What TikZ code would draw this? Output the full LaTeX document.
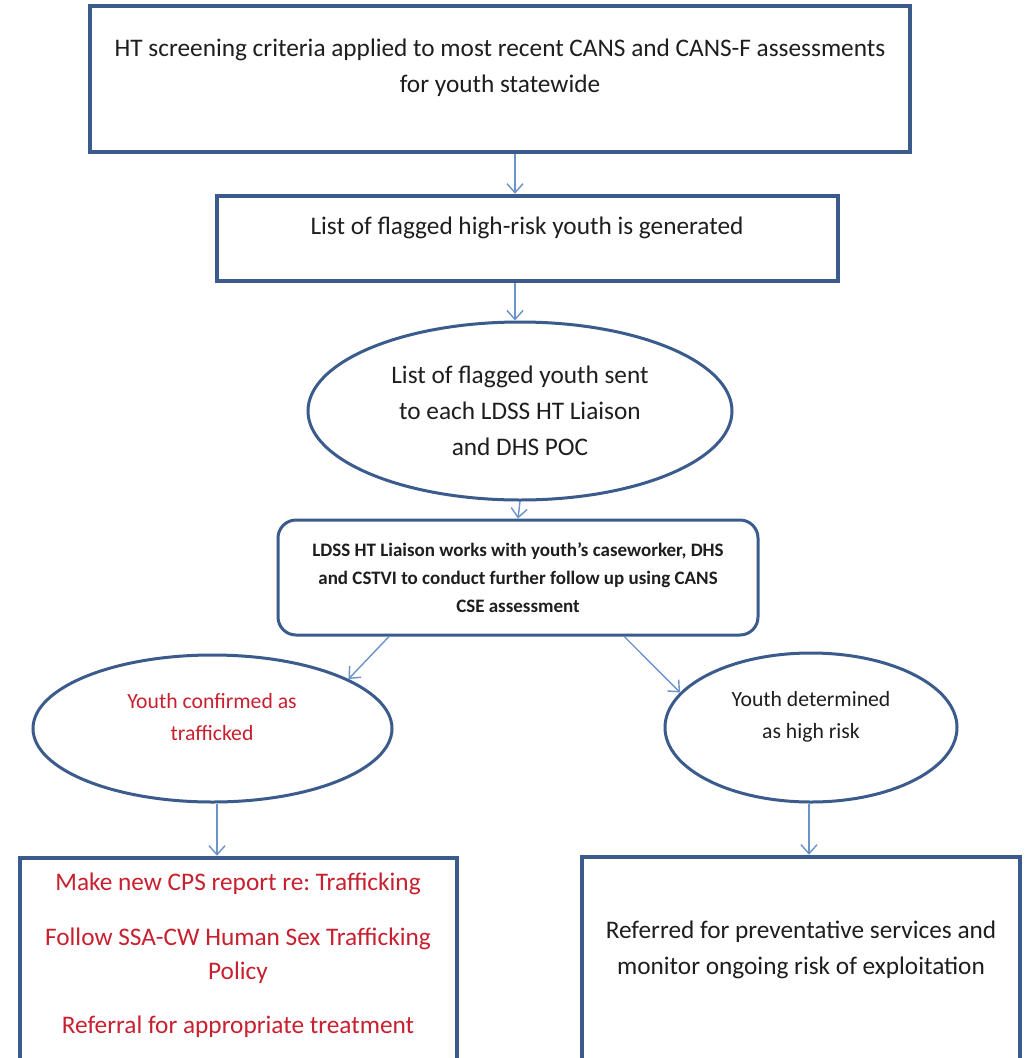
\documentclass[tikz,border=0pt]{standalone}
\usepackage{fontspec}
\setmainfont{Carlito}
\usetikzlibrary{arrows.meta,calc,shapes.geometric}
\definecolor{bordc}{HTML}{3B5B8C}
\definecolor{arrc}{HTML}{6A93CC}
\definecolor{redt}{HTML}{C8202F}
\definecolor{blkt}{HTML}{1E1E1E}
\frenchspacing
\tikzset{
  sqbox/.style={draw=bordc,line width=4.5pt,rectangle,inner sep=0pt,fill=white},
  rbox/.style={draw=bordc,line width=3pt,rectangle,rounded corners=18pt,inner sep=0pt},
  oval/.style={draw=bordc,line width=3pt,ellipse,inner sep=0pt},
  txt/.style={text=blkt,align=center,inner sep=0pt,font=\fontsize{25.3}{36}\selectfont},
  redtxt/.style={text=redt,align=center,inner sep=0pt,font=\fontsize{25.3}{34}\selectfont},
  arr/.style={draw=arrc,line width=1.4pt,-{Straight Barb[length=9pt,width=16pt,line width=1.4pt]}}
}
\begin{document}
\begin{tikzpicture}[x=1pt,y=-1pt]
\useasboundingbox (0,0) rectangle (1028,1058);
\fill[white] (0,0) rectangle (1028,1058);
\clip (0,0) rectangle (1028,1058);
% box 1
\node[sqbox,minimum width=820pt,minimum height=146pt] (b1) at (500,79) {};
\node[txt] (t1) at (500,68) {HT screening criteria applied to most recent CANS and CANS-F assessments\\for youth statewide};
% box 2
\node[sqbox,minimum width=621pt,minimum height=85pt] (b2) at (527.5,238.5) {};
\node[txt] (t2) at (527,228) {List of flagged high-risk youth is generated};
% ellipse 3
\node[oval,minimum width=424pt,minimum height=178pt,txt] (e3) at (520,411) {List of flagged youth sent\\to each LDSS HT Liaison\\and DHS POC};
% rounded box 4
\node[rbox,minimum width=480pt,minimum height=115pt,txt,font=\bfseries\fontsize{19}{28}\selectfont] (b4) at (518,577.5) {LDSS HT Liaison works with youth’s caseworker, DHS\\and CSTVI to conduct further follow up using CANS\\CSE assessment};
% ellipses left/right
\node[oval,minimum width=359pt,minimum height=147pt] (e1) at (212.5,728.5) {};
\node[redtxt,font=\fontsize{21.7}{32}\selectfont] (t5) at (212,717) {Youth confirmed as\\trafficked};
\node[oval,minimum width=292pt,minimum height=149pt] (e2) at (811,727.5) {};
\node[txt,font=\fontsize{21.7}{32}\selectfont] (t6) at (811,717) {Youth determined\\as high risk};
% bottom boxes
\node[sqbox,minimum width=437pt,minimum height=240pt] (b5) at (238.5,978) {};
\node[redtxt] (t7a) at (238,884) {Make new CPS report re: Trafficking};
\node[redtxt] (t7b) at (238,956) {Follow SSA-CW Human Sex Trafficking\\Policy};
\node[redtxt] (t7c) at (238,1027) {Referral for appropriate treatment};
\node[sqbox,minimum width=438pt,minimum height=240pt] (b6) at (801,977) {};
\node[txt] (t8) at (801,950) {Referred for preventative services and\\monitor ongoing risk of exploitation};
% arrows
\draw[arr] (b1.south -| 515,0) -- (b2.north -| 515,0);
\draw[arr] (b2.south -| 515,0) -- (e3.north -| 515,0);
\draw[arr] (e3.south) -- (b4.north);
\draw[arr] ($(b4.south west)!0.233!(b4.south east)$) -- (e1.20);
\draw[arr] ($(b4.south west)!0.72!(b4.south east)$) -- (e2.165);
\draw[arr] (e1.south -| 217,0) -- (b5.north -| 217,0);
\draw[arr] (e2.south -| 809,0) -- (b6.north -| 809,0);
\end{tikzpicture}
\end{document}
